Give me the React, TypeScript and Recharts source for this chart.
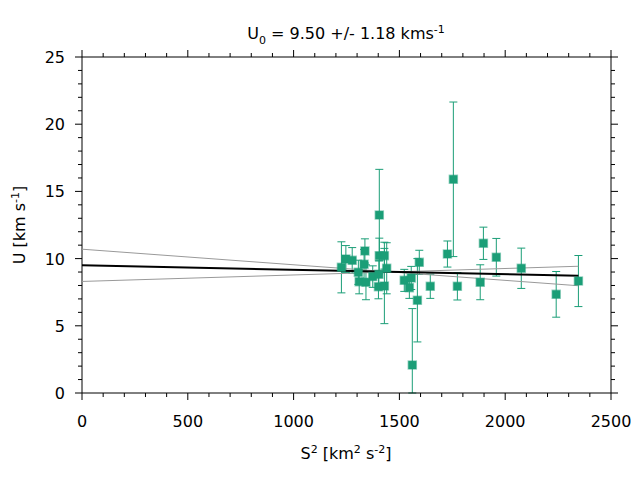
import { ComposedChart, ErrorBar, Scatter, XAxis, YAxis } from "recharts";

const GREEN = "#1b9e77";
const FONT = "'DejaVu Sans', sans-serif";

// measured points: S^2 [km^2 s^-2], U [km/s], 1-sigma error on U
const S2 = [
  1226, 1247, 1277, 1306, 1310, 1337, 1333, 1342, 1374, 1405, 1405, 1429, 1401,
  1429, 1440, 1403, 1523, 1547, 1556, 1561, 1585, 1594, 1646, 1727, 1755, 1774,
  1882, 1897, 1958, 2076, 2241, 2346,
];
const U = [
  9.35, 9.97, 9.87, 8.98, 8.28, 10.57, 9.58, 8.24, 8.66, 13.24, 10.22, 10.22,
  7.91, 7.96, 9.28, 8.83, 8.38, 7.84, 8.56, 2.08, 6.9, 9.72, 7.94, 10.34, 15.9,
  7.94, 8.24, 11.14, 10.1, 9.28, 7.34, 8.33,
];
const U_ERR = [
  1.9, 1.0, 0.95, 0.9, 0.9, 0.9, 1.1, 1.3, 0.8, 3.4, 1.3, 1.0, 0.9, 2.8, 1.9,
  1.0, 0.82, 0.8, 0.86, 4.2, 3.1, 0.9, 0.9, 0.97, 5.75, 1.02, 1.3, 1.2, 1.4,
  1.5, 1.7, 1.9,
];

// fitted relation and its +/- 1 sigma envelope (end points)
const FIT_X = [0, 2346];
const FIT_BEST = [9.5, 8.72];
const FIT_A = [10.7, 7.98];
const FIT_B = [8.3, 9.43];

const X_MAJOR = [0, 500, 1000, 1500, 2000, 2500];
const Y_MAJOR = [0, 5, 10, 15, 20, 25];
const X_TICKS: number[] = [];
for (let v = 0; v <= 2500; v += 100) X_TICKS.push(v);
const Y_TICKS: number[] = [];
for (let v = 0; v <= 25; v += 1) Y_TICKS.push(v);
const Y_MIN = 0;

// error bars are cut at the bottom of the axes, like the reference
const points = S2.map((x, i) => ({
  x,
  y: U[i],
  err: [Math.min(U_ERR[i], U[i] - Y_MIN), U_ERR[i]],
}));
const line = (ys: number[]) => FIT_X.map((x, i) => ({ x, y: ys[i] }));

const MAJOR_LEN = 7;
const MINOR_LEN = 4;
const FS = 16;

function tickFor(side: "bottom" | "top" | "left" | "right", majors: number[], labels: boolean) {
  return (props: any) => {
    const { x, y, payload } = props;
    const major = majors.includes(payload.value);
    const len = major ? MAJOR_LEN : MINOR_LEN;
    let x2 = x, y2 = y;
    if (side === "bottom") y2 = y + len;
    if (side === "top") y2 = y - len;
    if (side === "left") x2 = x - len;
    if (side === "right") x2 = x + len;
    return (
      <g>
        <line x1={x} y1={y} x2={x2} y2={y2} stroke="#000" strokeWidth={1} />
        {labels && major && side === "bottom" && (
          <text x={x} y={y + 34} textAnchor="middle" fontSize={FS} fontFamily={FONT} fill="#000">
            {payload.value}
          </text>
        )}
        {labels && major && side === "left" && (
          <text x={x - 17} y={y + 6} textAnchor="end" fontSize={FS} fontFamily={FONT} fill="#000">
            {payload.value}
          </text>
        )}
      </g>
    );
  };
}

const noMarker = () => <g />;

export default function App() {
  return (
    <div style={{ position: "absolute", left: 0, top: 0, width: 640, height: 480, background: "#fff", fontFamily: FONT }}>
      <ComposedChart width={640} height={480} margin={{ top: 0, right: 0, bottom: 0, left: 0 }}>
        <XAxis
          xAxisId="b"
          dataKey="x"
          type="number"
          domain={[0, 2500]}
          ticks={X_TICKS}
          interval={0}
          allowDataOverflow
          orientation="bottom"
          height={87}
          tickSize={0}
          tickMargin={0}
          tickLine={false}
          axisLine={{ stroke: "#000" }}
          tick={tickFor("bottom", X_MAJOR, true)}
        />
        <XAxis
          xAxisId="t"
          dataKey="x"
          type="number"
          domain={[0, 2500]}
          ticks={X_TICKS}
          interval={0}
          allowDataOverflow
          orientation="top"
          height={57}
          tickSize={0}
          tickMargin={0}
          tickLine={false}
          axisLine={{ stroke: "#000" }}
          tick={tickFor("top", X_MAJOR, false)}
        />
        <YAxis
          yAxisId="l"
          dataKey="y"
          type="number"
          domain={[Y_MIN, 25]}
          ticks={Y_TICKS}
          interval={0}
          allowDataOverflow
          orientation="left"
          width={82}
          tickSize={0}
          tickMargin={0}
          tickLine={false}
          axisLine={{ stroke: "#000" }}
          tick={tickFor("left", Y_MAJOR, true)}
        />
        <YAxis
          yAxisId="r"
          dataKey="y"
          type="number"
          domain={[Y_MIN, 25]}
          ticks={Y_TICKS}
          interval={0}
          allowDataOverflow
          orientation="right"
          width={29}
          tickSize={0}
          tickMargin={0}
          tickLine={false}
          axisLine={{ stroke: "#000" }}
          tick={tickFor("right", Y_MAJOR, false)}
        />
        <Scatter xAxisId="b" yAxisId="l" data={line(FIT_A)} line={{ stroke: "#999", strokeWidth: 1 }} shape={noMarker} isAnimationActive={false} />
        <Scatter xAxisId="b" yAxisId="l" data={line(FIT_B)} line={{ stroke: "#999", strokeWidth: 1 }} shape={noMarker} isAnimationActive={false} />
        <Scatter xAxisId="b" yAxisId="l" data={line(FIT_BEST)} line={{ stroke: "#000", strokeWidth: 2 }} shape={noMarker} isAnimationActive={false} />
        <Scatter
          xAxisId="b"
          yAxisId="l"
          data={points}
          shape="square"
          size={36}
          fill={GREEN}
          stroke={GREEN}
          strokeOpacity={0.45}
          strokeWidth={1.5}
          isAnimationActive={false}
        >
          <ErrorBar dataKey="err" direction="y" width={4} stroke={GREEN} strokeWidth={1} isAnimationActive={false} />
        </Scatter>
      </ComposedChart>
      <div style={{ position: "absolute", left: 0, width: 692, top: 20, textAlign: "center", fontSize: FS, lineHeight: "20px" }}>
        U<sub style={{ fontSize: 11 }}>0</sub> = 9.50 +/- 1.18 kms<sup style={{ fontSize: 11 }}>-1</sup>
      </div>
      <div style={{ position: "absolute", left: 0, width: 692, top: 440, textAlign: "center", fontSize: FS, lineHeight: "20px" }}>
        S<sup style={{ fontSize: 11 }}>2</sup> [km<sup style={{ fontSize: 11 }}>2</sup> s<sup style={{ fontSize: 11 }}>-2</sup>]
      </div>
      <div
        style={{
          position: "absolute",
          left: 18,
          top: 225,
          transform: "translate(-50%, -50%) rotate(-90deg)",
          whiteSpace: "nowrap",
          fontSize: FS,
          lineHeight: "20px",
        }}
      >
        U [km s<sup style={{ fontSize: 11 }}>-1</sup>]
      </div>
    </div>
  );
}
